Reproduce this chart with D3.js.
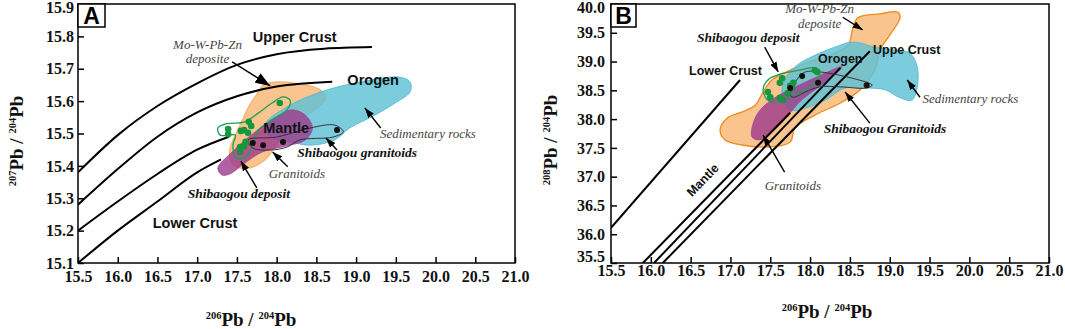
<!DOCTYPE html>
<html>
<head>
<meta charset="utf-8">
<script src="https://cdn.jsdelivr.net/npm/d3@7"></script>
<style>
  body { margin: 0; background: #fff; }
  svg text { font-family: "Liberation Serif", "Times New Roman", serif; }
</style>
</head>
<body>
<svg id="chart" width="1065" height="329"></svg>
<script>
// ---- shared ticks ----
const xTicks = [15.5, 16.0, 16.5, 17.0, 17.5, 18.0, 18.5, 19.0, 19.5, 20.0, 20.5, 21.0];
const yTicksA = [15.1, 15.2, 15.3, 15.4, 15.5, 15.6, 15.7, 15.8, 15.9];
const yTicksB = [35.5, 36.0, 36.5, 37.0, 37.5, 38.0, 38.5, 39.0, 39.5, 40.0];

// ---- panel A: 207Pb/204Pb vs 206Pb/204Pb ----
const upperCrustA = [[15.5, 15.38], [16.0, 15.495], [16.5, 15.585], [17.0, 15.655], [17.5, 15.712], [18.0, 15.745], [18.6, 15.762], [19.2, 15.767]];
const orogenA = [[15.5, 15.28], [16.0, 15.39], [16.5, 15.49], [17.0, 15.565], [17.5, 15.615], [18.0, 15.645], [18.7, 15.66]];
const mantleA = [[15.5, 15.2], [16.0, 15.29], [16.5, 15.375], [17.0, 15.45], [17.4, 15.49]];
const lowerCrustA = [[15.5, 15.1], [16.0, 15.2], [16.5, 15.29], [17.0, 15.38], [17.3, 15.42]];

const oreFieldA = [[17.82, 15.647], [17.98, 15.659], [18.29, 15.653], [18.55, 15.634], [18.61, 15.603], [18.29, 15.542], [18.04, 15.48], [17.85, 15.418], [17.64, 15.393], [17.45, 15.403], [17.41, 15.449], [17.54, 15.526], [17.66, 15.588], [17.77, 15.628]];
const sedimentFieldA = [[17.85, 15.526], [18.11, 15.579], [18.55, 15.628], [19.05, 15.659], [19.55, 15.674], [19.68, 15.659], [19.68, 15.628], [19.49, 15.594], [19.24, 15.557], [18.92, 15.517], [18.73, 15.48], [18.42, 15.464], [18.17, 15.474], [17.94, 15.486]];
const graniteFieldA = [[17.31, 15.372], [17.26, 15.393], [17.44, 15.443], [17.73, 15.505], [17.98, 15.548], [18.19, 15.573], [18.36, 15.557], [18.45, 15.517], [18.36, 15.48], [18.11, 15.461], [17.82, 15.443], [17.60, 15.409], [17.41, 15.375]];
const depositFieldA = [[17.26, 15.517], [17.35, 15.529], [17.60, 15.536], [17.77, 15.563], [17.94, 15.594], [18.08, 15.613], [18.17, 15.603], [18.13, 15.573], [17.94, 15.542], [17.77, 15.511], [17.70, 15.464], [17.61, 15.427], [17.49, 15.424], [17.45, 15.464], [17.48, 15.495], [17.29, 15.495]];
const depositDotsA = [[18.04, 15.594], [17.39, 15.514], [17.39, 15.498], [17.55, 15.508], [17.65, 15.536], [17.68, 15.523], [17.64, 15.502], [17.59, 15.511], [17.54, 15.458], [17.59, 15.461], [17.54, 15.443], [17.61, 15.474]];
const sbgFieldA = [[17.64, 15.48], [18.00, 15.489], [18.42, 15.517], [18.73, 15.526], [18.84, 15.505], [18.71, 15.489], [18.29, 15.48], [18.13, 15.458], [17.92, 15.449], [17.70, 15.455]];
const sbgDotsA = [[17.70, 15.471], [17.83, 15.464], [18.08, 15.474], [18.76, 15.511]];

// ---- panel B: 208Pb/204Pb vs 206Pb/204Pb ----
const lowerCrustB = [[15.5, 36.11], [17.12, 38.68]];
const mantleB = [[15.90, 35.5], [17.75, 38.11]];
const orogenB = [[16.04, 35.5], [18.38, 38.89]];
const upperCrustB = [[16.15, 35.5], [18.75, 39.18]];

const oreFieldB = [[16.87, 37.81], [16.96, 38.02], [17.14, 38.12], [17.31, 38.24], [17.41, 38.47], [17.52, 38.68], [17.75, 38.85], [17.97, 38.99], [18.25, 39.11], [18.48, 39.29], [18.53, 39.55], [18.60, 39.76], [18.88, 39.83], [19.10, 39.86], [19.13, 39.76], [19.00, 39.46], [18.88, 39.20], [18.81, 38.85], [18.63, 38.51], [18.38, 38.28], [18.06, 38.07], [17.81, 37.85], [17.75, 37.60], [17.50, 37.52], [17.14, 37.55], [16.93, 37.64]];
const sedimentFieldB = [[17.68, 38.68], [17.84, 38.94], [18.06, 39.11], [18.31, 39.25], [18.54, 39.34], [18.81, 39.25], [19.07, 39.20], [19.25, 39.15], [19.34, 38.94], [19.35, 38.59], [19.28, 38.33], [19.13, 38.37], [18.94, 38.51], [18.69, 38.54], [18.44, 38.54], [18.19, 38.33], [17.94, 38.19], [17.75, 38.16], [17.65, 38.42]];
const graniteFieldB = [[17.27, 37.69], [17.31, 38.02], [17.43, 38.24], [17.68, 38.47], [17.94, 38.64], [18.19, 38.80], [18.40, 38.91], [18.31, 38.77], [18.06, 38.51], [17.87, 38.30], [17.75, 38.11], [17.62, 37.90], [17.50, 37.76], [17.37, 37.64]];
const depositFieldB = [[17.41, 38.51], [17.47, 38.68], [17.62, 38.78], [17.87, 38.85], [18.06, 38.89], [18.12, 38.77], [18.02, 38.59], [17.81, 38.42], [17.62, 38.30], [17.47, 38.33]];
const depositDotsB = [[17.65, 38.71], [17.62, 38.63], [17.79, 38.63], [17.77, 38.54], [17.72, 38.45], [17.47, 38.47], [17.50, 38.38], [17.62, 38.37], [17.66, 38.33], [18.06, 38.85], [18.09, 38.82], [17.75, 38.58]];
const sbgFieldB = [[17.75, 38.42], [17.91, 38.80], [18.12, 38.82], [18.71, 38.64], [18.78, 38.59], [18.71, 38.54], [18.38, 38.56], [18.12, 38.56], [17.94, 38.47], [17.79, 38.38]];
const sbgDotsB = [[17.75, 38.54], [17.90, 38.75], [18.10, 38.63], [18.71, 38.59]];

// ---- annotations (data coordinates) ----
const labelsA = [
    { t: 'Upper Crust', p: [17.70, 15.783], k: 'field' },
    { t: 'Orogen', p: [18.89, 15.650], k: 'field' },
    { t: 'Mantle', p: [17.83, 15.502], k: 'field' },
    { t: 'Lower Crust', p: [16.44, 15.208], k: 'field' },
    { t: 'Mo-W-Pb-Zn', p: [17.13, 15.761], k: 'note', mid: true },
    { t: 'deposite', p: [17.13, 15.718], k: 'note', mid: true },
    { t: 'Sedimentary rocks', p: [19.30, 15.486], k: 'note' },
    { t: 'Shibaogou granitoids', p: [18.26, 15.427], k: 'strong' },
    { t: 'Granitoids', p: [17.90, 15.363], k: 'note' },
    { t: 'Shibaogou deposit', p: [16.88, 15.301], k: 'strong' }
];
const arrowsA = [
    { from: [17.44, 15.721], to: [17.92, 15.647], big: true },
    { from: [19.31, 15.517], to: [19.11, 15.579] },
    { from: [18.76, 15.449], to: [18.62, 15.486] },
    { from: [18.14, 15.397], to: [17.95, 15.443] },
    { from: [17.75, 15.332], to: [17.55, 15.415] }
];
const labelsB = [
    { t: 'Mo-W-Pb-Zn', p: [18.12, 39.84], k: 'note', mid: true },
    { t: 'deposite', p: [18.12, 39.58], k: 'note', mid: true },
    { t: 'Shibaogou deposit', p: [16.58, 39.34], k: 'strong' },
    { t: 'Lower Crust', p: [16.48, 38.77], k: 'field' },
    { t: 'Orogen', p: [18.10, 38.97], k: 'field' },
    { t: 'Uppe Crust', p: [18.79, 39.13], k: 'field' },
    { t: 'Sedimentary rocks', p: [19.41, 38.28], k: 'note' },
    { t: 'Shibaogou Granitoids', p: [18.17, 37.76], k: 'strong' },
    { t: 'Granitoids', p: [17.43, 36.77], k: 'note' },
    { t: 'Mantle', p: [16.69, 36.89], k: 'field', rot: -46, mid: true }
];
const arrowsB = [
    { from: [18.41, 39.77], to: [18.66, 39.55] },
    { from: [17.43, 39.25], to: [17.60, 38.82] },
    { from: [19.38, 38.38], to: [19.22, 38.68] },
    { from: [18.75, 37.93], to: [18.44, 38.47] },
    { from: [17.68, 37.08], to: [17.41, 37.72] }
];

const svg = d3.select('#chart');
const defs = svg.append('defs');

function addMarker(id, len, wid) {
    defs.append('marker')
        .attr('id', id)
        .attr('markerUnits', 'userSpaceOnUse')
        .attr('markerWidth', len)
        .attr('markerHeight', wid)
        .attr('refX', len)
        .attr('refY', wid / 2)
        .attr('orient', 'auto')
        .append('path')
        .attr('d', `M0,0L${len},${wid / 2}L0,${wid}Z`)
        .attr('fill', '#000');
}
addMarker('head', 10, 7);
addMarker('headBig', 15, 11);

function pbTitle(text, top, big, small) {
    text.append('tspan').style('font-size', small + 'px').attr('dy', -7).text(top);
    text.append('tspan').style('font-size', big + 'px').attr('dy', 7).text('Pb');
    text.append('tspan').style('font-size', big + 'px').text('\u00a0/\u00a0');
    text.append('tspan').style('font-size', small + 'px').attr('dy', -7).text('204');
    text.append('tspan').style('font-size', big + 'px').attr('dy', 7).text('Pb');
}

function drawPanel(cfg) {
    const g = svg.append('g').attr('transform', `translate(${cfg.left},${cfg.top})`);
    const x = d3.scaleLinear().domain([15.5, 21]).range([0, cfg.width]);
    const y = d3.scaleLinear().domain(cfg.yDomain).range([cfg.height, 0]);

    defs.append('clipPath').attr('id', 'clip' + cfg.name)
        .append('rect').attr('width', cfg.width).attr('height', cfg.height);
    const plot = g.append('g').attr('clip-path', `url(#clip${cfg.name})`);

    const blob = d3.line().x(d => x(d[0])).y(d => y(d[1])).curve(d3.curveCatmullRomClosed.alpha(0.5));
    const smooth = d3.line().x(d => x(d[0])).y(d => y(d[1])).curve(d3.curveMonotoneX);

    // fields
    plot.append('path').attr('d', blob(cfg.ore))
        .attr('fill', '#f9c48e').attr('stroke', cfg.oreStroke).attr('stroke-width', 1.3);
    plot.append('path').attr('d', blob(cfg.sediment))
        .attr('fill', '#5ec2d6').attr('fill-opacity', 0.82).attr('stroke', '#4bb6cc').attr('stroke-width', 0.8);
    plot.append('path').attr('d', blob(cfg.granite))
        .attr('fill', '#9c3a8c').attr('fill-opacity', 0.8).attr('stroke', '#a8409a').attr('stroke-width', 0.8);

    // growth curves
    cfg.curves.forEach(c => {
        plot.append('path').attr('d', smooth(c))
            .attr('fill', 'none').attr('stroke', '#000').attr('stroke-width', 2);
    });

    plot.append('path').attr('d', blob(cfg.deposit))
        .attr('fill', 'none').attr('stroke', '#1d9e57').attr('stroke-width', 1.3);
    plot.append('path').attr('d', blob(cfg.sbg))
        .attr('fill', 'none').attr('stroke', '#333').attr('stroke-width', 1);

    plot.selectAll('.dep').data(cfg.depDots).enter().append('circle')
        .attr('cx', d => x(d[0])).attr('cy', d => y(d[1])).attr('r', 3.3).attr('fill', '#17963f');
    plot.selectAll('.sbg').data(cfg.sbgDots).enter().append('circle')
        .attr('cx', d => x(d[0])).attr('cy', d => y(d[1])).attr('r', 3).attr('fill', '#111');

    // arrows
    cfg.arrows.forEach(a => {
        g.append('line')
            .attr('x1', x(a.from[0])).attr('y1', y(a.from[1]))
            .attr('x2', x(a.to[0])).attr('y2', y(a.to[1]))
            .attr('stroke', '#000').attr('stroke-width', 1.4)
            .attr('marker-end', a.big ? 'url(#headBig)' : 'url(#head)');
    });

    // labels
    cfg.labels.forEach(l => {
        const t = g.append('text')
            .attr('transform', `translate(${x(l.p[0])},${y(l.p[1])})` + (l.rot ? ` rotate(${l.rot})` : ''))
            .attr('text-anchor', l.mid ? 'middle' : 'start')
            .text(l.t);
        if (l.k === 'field') {
            t.style('font-family', '"Liberation Sans", Arial, sans-serif')
                .style('font-weight', 'bold').style('font-size', cfg.fieldSize + 'px').attr('fill', '#111');
        } else if (l.k === 'strong') {
            t.style('font-style', 'italic').style('font-weight', 'bold').style('font-size', '13.5px').attr('fill', '#111');
        } else {
            t.style('font-style', 'italic').style('font-size', '13px').attr('fill', '#444');
        }
    });

    // axes (ticks inside)
    const xAxis = g.append('g').attr('transform', `translate(0,${cfg.height})`)
        .call(d3.axisBottom(x).tickValues(xTicks).tickFormat(d3.format('.1f')).tickSize(-6).tickPadding(cfg.xPad));
    const yAxis = g.append('g')
        .call(d3.axisLeft(y).tickValues(cfg.yTicks).tickFormat(d3.format('.1f')).tickSize(-6).tickPadding(cfg.yPad));
    [xAxis, yAxis].forEach(ax => {
        ax.select('.domain').remove();
        ax.selectAll('line').attr('stroke', '#000').attr('stroke-width', 1.5);
        ax.selectAll('text').attr('fill', '#111')
            .style('font-size', '16px').style('font-weight', 'bold')
            .style('font-family', '"Liberation Serif", "Times New Roman", serif');
    });
    // keep the end labels inside the picture, as in the source figure
    yAxis.selectAll('text').filter(d => d === cfg.yTicks[cfg.yTicks.length - 1]).attr('dy', '0.55em');
    yAxis.selectAll('text').filter(d => d === cfg.yTicks[0]).attr('dy', cfg.yBottomDy);

    // frame
    g.append('rect').attr('width', cfg.width).attr('height', cfg.height)
        .attr('fill', 'none').attr('stroke', '#000').attr('stroke-width', 1.5);

    // panel letter
    g.append('rect').attr('width', cfg.boxW).attr('height', 23)
        .attr('fill', '#fff').attr('stroke', '#000').attr('stroke-width', 1.5);
    g.append('text').attr('x', cfg.boxW / 2).attr('y', 20).attr('text-anchor', 'middle')
        .style('font-family', '"Liberation Sans", Arial, sans-serif')
        .style('font-weight', 'bold').style('font-size', '23px').text(cfg.name);

    // axis titles
    const xt = svg.append('text').attr('x', cfg.xTitle[0]).attr('y', cfg.xTitle[1])
        .attr('text-anchor', 'middle').style('font-weight', 'bold').attr('fill', '#111');
    pbTitle(xt, '206', 19, 10.5);
    const yt = svg.append('text')
        .attr('transform', `translate(${cfg.yTitle[0]},${cfg.yTitle[1]}) rotate(-90)`)
        .attr('text-anchor', 'middle').style('font-weight', 'bold').attr('fill', '#111');
    pbTitle(yt, cfg.yTop, 19, 10.5);
}

drawPanel({
    name: 'A', left: 78, top: 4, width: 437, height: 259,
    yDomain: [15.1, 15.9], yTicks: yTicksA, xPad: 8, yPad: 4, yBottomDy: '0.32em', boxW: 27,
    ore: oreFieldA, oreStroke: '#f5b36e', sediment: sedimentFieldA, granite: graniteFieldA,
    deposit: depositFieldA, sbg: sbgFieldA, depDots: depositDotsA, sbgDots: sbgDotsA,
    curves: [upperCrustA, orogenA, mantleA, lowerCrustA],
    labels: labelsA, arrows: arrowsA, fieldSize: 14.5,
    xTitle: [251, 326], yTitle: [23, 141], yTop: '207'
});

drawPanel({
    name: 'B', left: 611, top: 4, width: 438, height: 259,
    yDomain: [35.5, 40.0], yTicks: yTicksB, xPad: 2, yPad: 6, yBottomDy: '-0.1em', boxW: 25,
    ore: oreFieldB, oreStroke: '#f08a1e', sediment: sedimentFieldB, granite: graniteFieldB,
    deposit: depositFieldB, sbg: sbgFieldB, depDots: depositDotsB, sbgDots: sbgDotsB,
    curves: [lowerCrustB, mantleB, orogenB, upperCrustB],
    labels: labelsB, arrows: arrowsB, fieldSize: 12.5,
    xTitle: [827, 318], yTitle: [557, 140], yTop: '208'
});
</script>
</body>
</html>
